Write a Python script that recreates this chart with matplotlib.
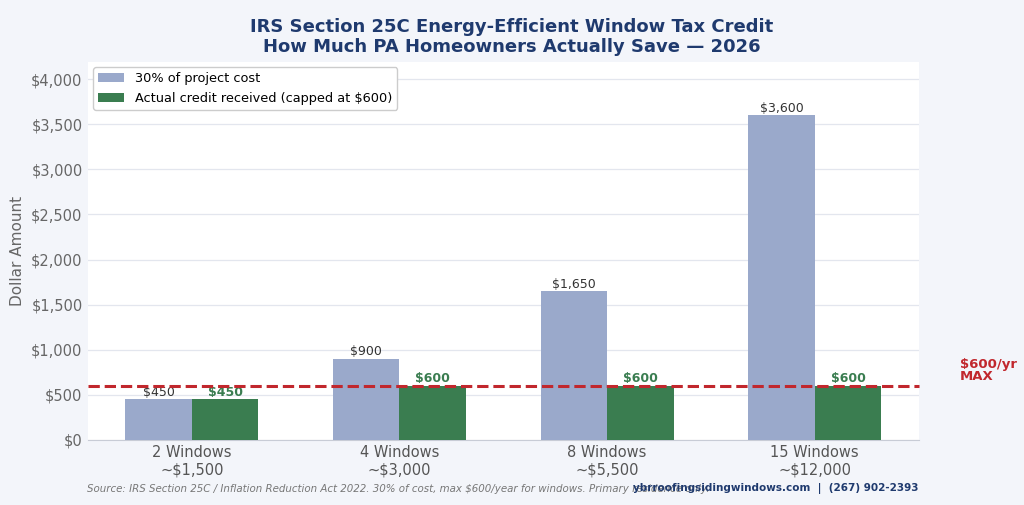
import matplotlib.pyplot as plt
import numpy as np

categories = ["2 Windows\n~$1,500", "4 Windows\n~$3,000", "8 Windows\n~$5,500", "15 Windows\n~$12,000"]
pct30 = [450, 900, 1650, 3600]
credit = [450, 600, 600, 600]
cap = 600

navy = "#1f3a6e"
blue = "#9aa9cb"
green = "#3a7d50"
red = "#c1272d"
bg = "#f3f5fa"

fig = plt.figure(figsize=(10.24, 5.05), dpi=100, facecolor=bg)
ax = fig.add_axes([0.086, 0.129, 0.811, 0.748])
ax.set_facecolor("white")

x = np.arange(len(categories))
w = 0.32
ax.bar(x - w/2, pct30, w, color=blue, label="30% of project cost", zorder=3)
ax.bar(x + w/2, credit, w, color=green, label="Actual credit received (capped at $600)", zorder=3)

for xi, v in zip(x, pct30):
    ax.text(xi - w/2, v + 5, "${:,}".format(v), ha="center", va="bottom", fontsize=9, color="#333333", zorder=4)
for xi, v in zip(x, credit):
    ax.text(xi + w/2, v + 5, "${:,}".format(v), ha="center", va="bottom", fontsize=9, color=green, fontweight="bold", zorder=4)

ax.axhline(cap, color=red, linestyle="--", linewidth=2.2, zorder=5, clip_on=False)
ax.text(1.05, cap + 30, "$600/yr\nMAX", transform=ax.get_yaxis_transform(), color=red,
        fontsize=9.5, fontweight="bold", va="bottom", ha="left", linespacing=0.95)

ax.set_xlim(-0.5, 3.5)
ax.set_ylim(0, 4190)
ax.set_xticks(x)
ax.set_xticklabels(categories, fontsize=10.5, color="#555555")
yt = np.arange(0, 4001, 500)
ax.set_yticks(yt)
ax.set_yticklabels(["${:,}".format(v) for v in yt], fontsize=10.5, color="#666666")
ax.set_ylabel("Dollar Amount", fontsize=11, color="#666666")
ax.grid(axis="y", color="#e3e6ee", linewidth=0.9, zorder=0)
ax.tick_params(length=0, pad=4)
for s in ["top", "right", "left"]:
    ax.spines[s].set_visible(False)
ax.spines["bottom"].set_color("#c8ccd6")

ax.legend(loc="upper left", fontsize=9.3, frameon=True, facecolor="white", edgecolor="#cccccc",
          framealpha=1, borderaxespad=0.4)

fig.text(0.5, 0.965, "IRS Section 25C Energy-Efficient Window Tax Credit\nHow Much PA Homeowners Actually Save \u2014 2026",
         ha="center", va="top", fontsize=13, fontweight="bold", color=navy, linespacing=1.15)

# source line runs under the contact text, as in the original
fig.text(0.085, 0.032, "Source: IRS Section 25C / Inflation Reduction Act 2022. 30% of cost, max $600/year for windows. Primary residence only.",
         ha="left", va="center", fontsize=7.4, style="italic", color="#777777")
fig.text(0.897, 0.032, "ybrroofingsidingwindows.com  |  (267) 902-2393",
         ha="right", va="center", fontsize=7.5, fontweight="bold", color=navy)

fig.savefig("out.png", dpi=100, facecolor=bg)
